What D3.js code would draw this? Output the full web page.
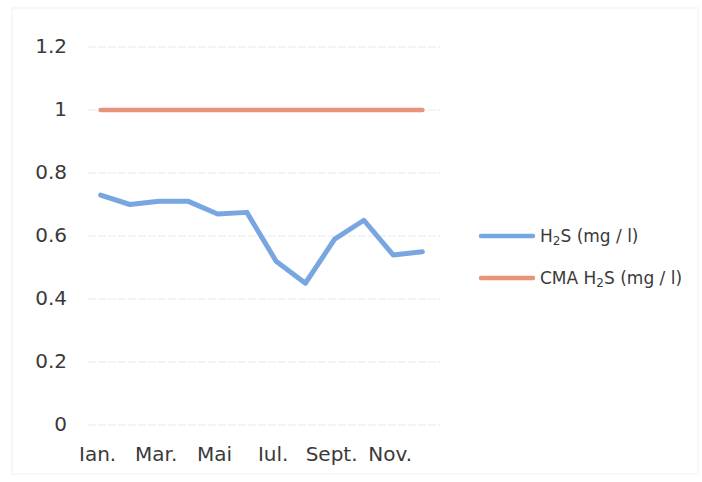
<!DOCTYPE html>
<html><head><meta charset="utf-8">
<script src="https://cdn.jsdelivr.net/npm/d3@7"></script>
<style>body{margin:0;background:#fff}svg{display:block}</style>
</head><body><svg id="c" width="702" height="482"></svg>
<script>
const months = ["Ian.","Feb.","Mar.","Apr.","Mai","Iun.","Iul.","Aug.","Sept.","Oct.","Nov.","Dec."];
const shownLabels = ["Ian.","Mar.","Mai","Iul.","Sept.","Nov."];
const h2s = [0.73,0.70,0.71,0.71,0.67,0.675,0.52,0.45,0.59,0.65,0.54,0.55];
const cma = [1,1,1,1,1,1,1,1,1,1,1,1];
const yTicks = [0,0.2,0.4,0.6,0.8,1,1.2];
const colors = ["#78a6e0","#e8937a"];

const svg = d3.select("#c");
svg.append("rect").attr("x",12).attr("y",8).attr("width",686).attr("height",466)
  .attr("fill","none").attr("stroke","#f0f0f0");

const x = d3.scaleBand().domain(months).range([86,437]);
const y = d3.scaleLinear().domain([0,1.2]).range([425,47]);
const cx = d => x(d)+x.bandwidth()/2;

const grid = svg.append("g");
grid.selectAll("line").data(yTicks).join("line")
  .attr("x1",88).attr("x2",440).attr("y1",d=>y(d)).attr("y2",d=>y(d))
  .attr("stroke","#e9e9e9").attr("stroke-width",1).attr("stroke-dasharray","8,2");

const yAxis = svg.append("g").attr("transform","translate(67,0)")
  .call(d3.axisLeft(y).tickValues(yTicks).tickSize(0).tickPadding(0).tickFormat(d=>String(d)));
yAxis.select(".domain").remove();
yAxis.selectAll("text").attr("font-family","DejaVu Sans").attr("font-size",20).attr("fill","#3a3a3a").attr("dy","0.25em");

const xAxis = svg.append("g").attr("transform","translate(-3,443)")
  .call(d3.axisBottom(x).tickSize(0).tickPadding(0).tickFormat(d=>shownLabels.includes(d)?d:""));
xAxis.select(".domain").remove();
xAxis.selectAll("text").attr("font-family","DejaVu Sans").attr("font-size",20).attr("fill","#3a3a3a").attr("dy","0.9em");

const line = d3.line().x((d,i)=>cx(months[i])).y(d=>y(d));
svg.append("path").datum(cma).attr("d",line).attr("fill","none")
  .attr("stroke",colors[1]).attr("stroke-width",4.5).attr("stroke-linecap","round");
svg.append("path").datum(h2s).attr("d",line).attr("fill","none")
  .attr("stroke",colors[0]).attr("stroke-width",5).attr("stroke-linejoin","round").attr("stroke-linecap","round");

const leg = svg.append("g");
[0,1].forEach(i=>{
  const ly = 236 + i*42;
  leg.append("line").attr("x1",481).attr("x2",533).attr("y1",ly).attr("y2",ly)
    .attr("stroke",colors[i]).attr("stroke-width",4.5).attr("stroke-linecap","round");
  const t = leg.append("text").attr("x",540).attr("y",ly+6)
    .attr("font-family","DejaVu Sans").attr("font-size",17).attr("fill","#3a3a3a");
  const pre = i===0 ? "H" : "CMA H";
  t.append("tspan").text(pre);
  t.append("tspan").attr("font-size",12).attr("dy",3).text("2");
  t.append("tspan").attr("dy",-3).text("S  (mg / l)");
});
</script></body></html>
